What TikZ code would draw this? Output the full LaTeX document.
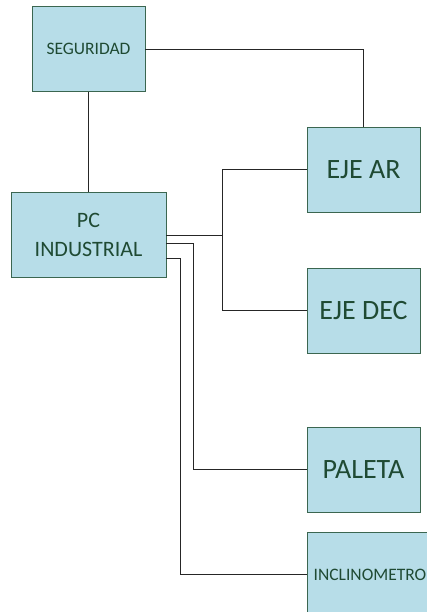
\documentclass[tikz,border=0pt]{standalone}
\usepackage{fontspec}
\setmainfont{Carlito}
\usepackage{tikz}
\usetikzlibrary{positioning}
\definecolor{boxfill}{HTML}{B7DDE8}
\definecolor{boxline}{HTML}{3B6650}
\definecolor{boxtext}{HTML}{1F4A33}
\tikzset{
  unitbox/.style={
    draw=boxline, fill=boxfill, line width=0.9pt,
    minimum width=113pt, minimum height=85pt,
    inner sep=0pt, align=center, text=boxtext
  },
  smalltxt/.style={font=\fontsize{17.5}{21}\selectfont},
  midtxt/.style={font=\fontsize{22}{29}\selectfont},
  bigtxt/.style={font=\fontsize{28}{34}\selectfont},
  wire/.style={draw=black!85, line width=0.8pt}
}

\begin{document}
\begin{tikzpicture}[x=1pt, y=-1pt]
  \useasboundingbox (0,0) rectangle (426,612);

  % Boxes
  \node[unitbox, smalltxt] (seg) at (88.5,49) {SEGURIDAD};
  \node[unitbox, midtxt, minimum width=155pt] (pc) at (88.5,234.5) {PC\\INDUSTRIAL};
  \node[unitbox, bigtxt] (ejear) at (363.5,169.5) {EJE AR};
  \node[unitbox, bigtxt] (ejedec) at (363.5,310.5) {EJE DEC};
  \node[unitbox, bigtxt] (paleta) at (363.5,469.5) {PALETA};
  \node[unitbox, smalltxt, minimum width=126pt] (incl) at (370,574.5) {INCLINOMETRO};

  % Links from SEGURIDAD
  \draw[wire] (seg.east) -| (ejear.north);
  \draw[wire] (seg.south) -- (pc.north);

  % Links from PC INDUSTRIAL
  \coordinate (bus) at (222,235);
  \draw[wire] ([yshift=-0.5pt]pc.east) -- (bus);
  \draw[wire] (bus) |- (ejear.west);
  \draw[wire] (bus) |- (ejedec.west);
  \draw[wire] ([yshift=-8.5pt]pc.east) -- ++(27,0) |- (paleta.west);
  \draw[wire] ([yshift=-23.5pt]pc.east) -- ++(14,0) |- (incl.west);

\end{tikzpicture}
\end{document}
